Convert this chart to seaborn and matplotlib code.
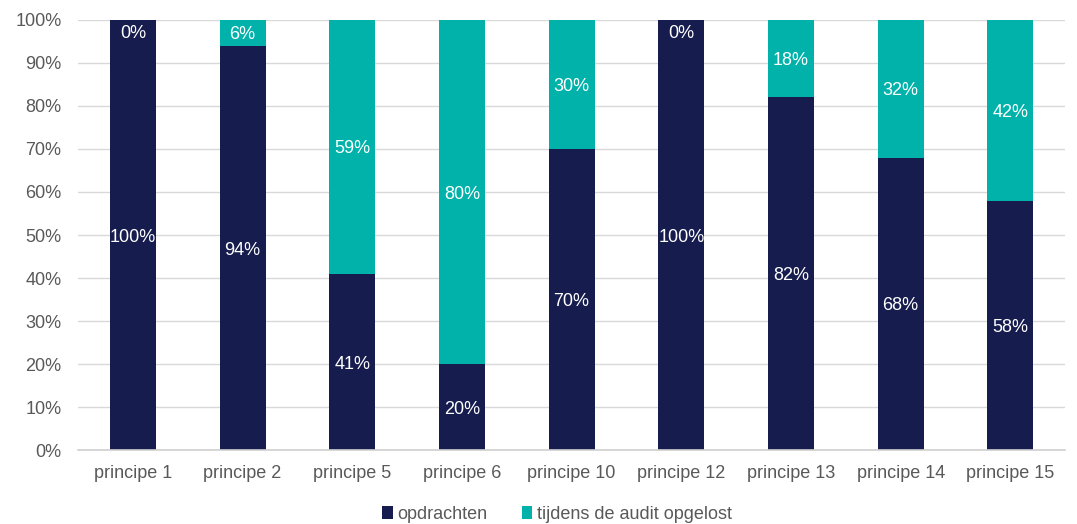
import matplotlib
matplotlib.use("Agg")
import matplotlib.pyplot as plt
import seaborn as sns
import pandas as pd
from matplotlib.patches import Patch
from matplotlib.ticker import MultipleLocator, FuncFormatter

categories = ["principe 1", "principe 2", "principe 5", "principe 6", "principe 10",
              "principe 12", "principe 13", "principe 14", "principe 15"]
opdrachten = [100, 94, 41, 20, 70, 100, 82, 68, 58]
opgelost = [0, 6, 59, 80, 30, 0, 18, 32, 42]
series_names = ["opdrachten", "tijdens de audit opgelost"]

dark = "#161C4E"
teal = "#00B2A9"
gray = "#595959"

sns.set_theme(style="white")
plt.rcParams["font.family"] = ["Liberation Sans", "DejaVu Sans"]

df = pd.DataFrame({"cat": categories, "op": opdrachten, "tot": [a + b for a, b in zip(opdrachten, opgelost)]})

fig = plt.figure(figsize=(10.77, 5.24), dpi=100)
ax = fig.add_axes([0.0725, 0.141, 0.9165, 0.821])

sns.barplot(data=df, x="cat", y="tot", color=teal, width=0.42, ax=ax, saturation=1,
            linewidth=0, edgecolor="none", zorder=3)
sns.barplot(data=df, x="cat", y="op", color=dark, width=0.42, ax=ax, saturation=1,
            linewidth=0, edgecolor="none", zorder=4)

ax.set_ylim(0, 100)
ax.yaxis.set_major_locator(MultipleLocator(10))
ax.yaxis.set_major_formatter(FuncFormatter(lambda v, p: f"{int(round(v))}%"))
ax.grid(axis="y", color="#D9D9D9", linewidth=1, zorder=0)
ax.set_axisbelow(True)
for s in ["top", "right", "left"]:
    ax.spines[s].set_visible(False)
ax.spines["bottom"].set_color("#D0D0D0")
ax.spines["bottom"].set_linewidth(1.2)
ax.spines["bottom"].set_zorder(5)
ax.tick_params(axis="both", length=0, labelsize=13, labelcolor=gray)
ax.tick_params(axis="y", pad=12)
ax.tick_params(axis="x", pad=11)
ax.set_xlabel("")
ax.set_ylabel("")
ax.set_xlim(-0.5, len(categories) - 0.5)

for i, (a, b) in enumerate(zip(opdrachten, opgelost)):
    ax.annotate(f"{a}%", (i, a / 2), xytext=(0, -1.5), textcoords="offset points",
                ha="center", va="center", color="white", fontsize=13, zorder=6)
    if b > 0:
        ax.annotate(f"{b}%", (i, a + b / 2), xytext=(0, -1.5), textcoords="offset points",
                    ha="center", va="center", color="white", fontsize=13, zorder=6)
    else:
        ax.annotate(f"{b}%", (i, a), xytext=(0, -10), textcoords="offset points",
                    ha="center", va="center", color="white", fontsize=13, zorder=6)

handles = [Patch(facecolor=dark, edgecolor="none"), Patch(facecolor=teal, edgecolor="none")]
fig.legend(handles, series_names, loc="center", bbox_to_anchor=(0.517, 0.018), ncol=2,
           frameon=False, fontsize=13, labelcolor=gray, handlelength=0.6, handleheight=0.7,
           handletextpad=0.25, columnspacing=1.9, borderaxespad=0)

fig.savefig("out.png", dpi=100)
